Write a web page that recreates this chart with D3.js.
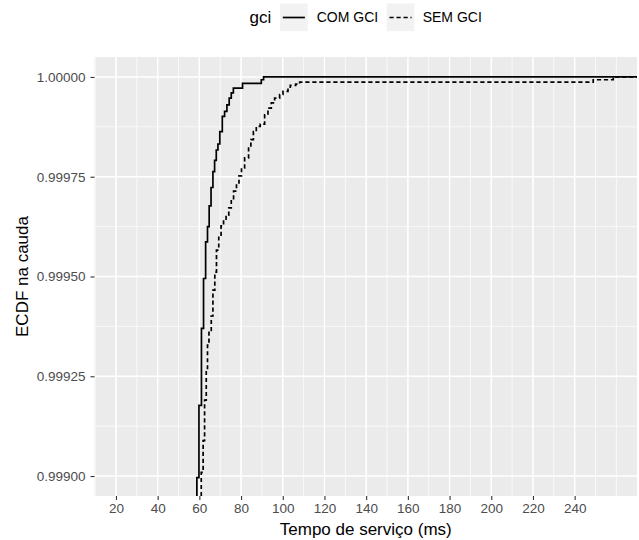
<!DOCTYPE html>
<html>
<head>
<meta charset="utf-8">
<script src="https://cdn.jsdelivr.net/npm/d3@7"></script>
<style>
  body { margin: 0; background: #fff; }
  text { font-family: 'Liberation Sans', Arial, sans-serif; }
</style>
</head>
<body>
<script>
'use strict'

const PANEL   = '#EBEBEB'
const KEYFILL = '#F2F2F2'
const TICK    = '#333333'
const LABEL   = '#4D4D4D'

// tail of the ECDF (ms, cumulative prob.)
const comGciMs   = [58.8, 59.8, 61.0, 62.0, 63.0, 63.9, 64.7, 65.6, 66.5, 67.3, 68.1,
                    68.9, 69.8, 71.0, 72.1, 73.2, 74.3, 75.3, 76.3, 80.7, 89.7, 90.8]
const comGciEcdf = [0.998996, 0.999177, 0.999370, 0.999495, 0.999587, 0.999625,
                    0.999677, 0.999723, 0.999763, 0.999791, 0.999817, 0.999832,
                    0.999863, 0.999901, 0.999914, 0.999930, 0.999947, 0.999960,
                    0.999972, 0.999984, 0.999993, 1.000000]

const semGciMs   = [60.9, 61.8, 62.5, 63.3, 63.9, 64.6, 65.7, 66.5, 67.4, 68.2, 69.3,
                    70.4, 71.6, 72.8, 74.1, 75.3, 76.4, 77.8, 79.0, 80.2, 81.7, 83.6,
                    84.7, 85.9, 87.3, 89.2, 91.3, 92.9, 94.5, 96.1, 98.5, 100.1,
                    102.5, 103.6, 106.2, 108.1, 248.9, 258.5]
const semGciEcdf = [0.999009, 0.999089, 0.999190, 0.999265, 0.999328, 0.999365,
                    0.999401, 0.999466, 0.999511, 0.999566, 0.999601, 0.999627,
                    0.999639, 0.999654, 0.999672, 0.999692, 0.999714, 0.999732,
                    0.999752, 0.999772, 0.999797, 0.999822, 0.999843, 0.999863,
                    0.999876, 0.999882, 0.999905, 0.999922, 0.999935, 0.999947,
                    0.999956, 0.999964, 0.999971, 0.999979, 0.999982, 0.999987,
                    0.999993, 1.000000]

const groups   = ['COM GCI', 'SEM GCI']
const xTicks   = [20, 40, 60, 80, 100, 120, 140, 160, 180, 200, 220, 240]
const xMinor   = d3.range(10, 270, 10)
const yTicks   = [0.999, 0.99925, 0.9995, 0.99975, 1]
const yMinor   = [0.999125, 0.999375, 0.999625, 0.999875]

const W = 639, H = 540
const panelL = 94.5, panelR = 637, panelT = 57, panelB = 496

const x = d3.scaleLinear().domain([9.7, 269.9]).range([panelL, panelR])
const y = d3.scaleLinear().domain([0.99895, 1.00005]).range([panelB, panelT])

const svg = d3.select('body')
  .append('svg')
  .attr('width', W)
  .attr('height', H)

svg.append('defs')
  .append('clipPath')
  .attr('id', 'panel-clip')
  .append('rect')
  .attr('x', panelL).attr('y', panelT)
  .attr('width', panelR - panelL).attr('height', panelB - panelT)

svg.append('rect')
  .attr('x', panelL).attr('y', panelT)
  .attr('width', panelR - panelL).attr('height', panelB - panelT)
  .attr('fill', PANEL)

const grid = svg.append('g').attr('clip-path', 'url(#panel-clip)')

grid.selectAll('.xminor').data(xMinor).join('line')
  .attr('x1', d => x(d)).attr('x2', d => x(d))
  .attr('y1', panelT).attr('y2', panelB)
  .attr('stroke', '#fff').attr('stroke-width', 0.7)

grid.selectAll('.yminor').data(yMinor).join('line')
  .attr('y1', d => y(d)).attr('y2', d => y(d))
  .attr('x1', panelL).attr('x2', panelR)
  .attr('stroke', '#fff').attr('stroke-width', 0.7)

grid.selectAll('.xmajor').data(xTicks).join('line')
  .attr('x1', d => x(d)).attr('x2', d => x(d))
  .attr('y1', panelT).attr('y2', panelB)
  .attr('stroke', '#fff').attr('stroke-width', 1.4)

grid.selectAll('.ymajor').data(yTicks).join('line')
  .attr('y1', d => y(d)).attr('y2', d => y(d))
  .attr('x1', panelL).attr('x2', panelR)
  .attr('stroke', '#fff').attr('stroke-width', 1.4)

// step lines
const series = [
  { name: groups[0], ms: comGciMs, ecdf: comGciEcdf, dash: null },
  { name: groups[1], ms: semGciMs, ecdf: semGciEcdf, dash: '4.2,2.8' }
]

const line = d3.line()
  .x(d => x(d[0]))
  .y(d => y(d[1]))
  .curve(d3.curveStepAfter)

series.forEach(s => {
  let pts = s.ms.map((m, i) => [m, s.ecdf[i]])
  // come up from below the panel, run out past the right edge
  pts.unshift([s.ms[0], y.domain()[0] - 0.001])
  pts.push([x.domain()[1] + 5, s.ecdf[s.ecdf.length - 1]])

  grid.append('path')
    .datum(pts)
    .attr('d', line)
    .attr('fill', 'none')
    .attr('stroke', '#000')
    .attr('stroke-width', 1.7)
    .attr('stroke-dasharray', s.dash)
})

// axes
const xAxis = svg.append('g')
  .attr('transform', `translate(0, ${ panelB })`)
  .call(d3.axisBottom(x).tickValues(xTicks).tickSize(4).tickPadding(3))

const yAxis = svg.append('g')
  .attr('transform', `translate(${ panelL }, 0)`)
  .call(d3.axisLeft(y).tickValues(yTicks).tickSize(4).tickPadding(5)
    .tickFormat(d3.format('.5f')))

;[xAxis, yAxis].forEach(a => {
  a.select('.domain').remove()
  a.selectAll('.tick line').attr('stroke', TICK).attr('stroke-width', 1.1)
  a.selectAll('.tick text')
    .attr('fill', LABEL)
    .style('font-size', '13.5px')
    .style('font-family', "'Liberation Sans', Arial, sans-serif")
})

svg.append('text')
  .attr('x', (panelL + panelR) / 2)
  .attr('y', 535)
  .attr('text-anchor', 'middle')
  .style('font-size', '17px')
  .text('Tempo de serviço (ms)')

svg.append('text')
  .attr('transform', `translate(28, ${ (panelT + panelB) / 2 }) rotate(-90)`)
  .attr('text-anchor', 'middle')
  .style('font-size', '17px')
  .text('ECDF na cauda')

// legend
const legend = svg.append('g')

legend.append('text')
  .attr('x', 249.5).attr('y', 23.3)
  .style('font-size', '17px')
  .text('gci')

const keyX = [280, 386.7]
const labelX = [316.7, 422.7]

series.forEach((s, i) => {
  legend.append('rect')
    .attr('x', keyX[i]).attr('y', 3.5)
    .attr('width', 27.7).attr('height', 27.7)
    .attr('fill', KEYFILL)

  legend.append('line')
    .attr('x1', keyX[i] + 2.8).attr('x2', keyX[i] + 24.9)
    .attr('y1', 17.5).attr('y2', 17.5)
    .attr('stroke', '#000')
    .attr('stroke-width', 1.7)
    .attr('stroke-dasharray', s.dash)

  legend.append('text')
    .attr('x', labelX[i]).attr('y', 22.3)
    .style('font-size', '14px')
    .text(s.name)
})
</script>
</body>
</html>
